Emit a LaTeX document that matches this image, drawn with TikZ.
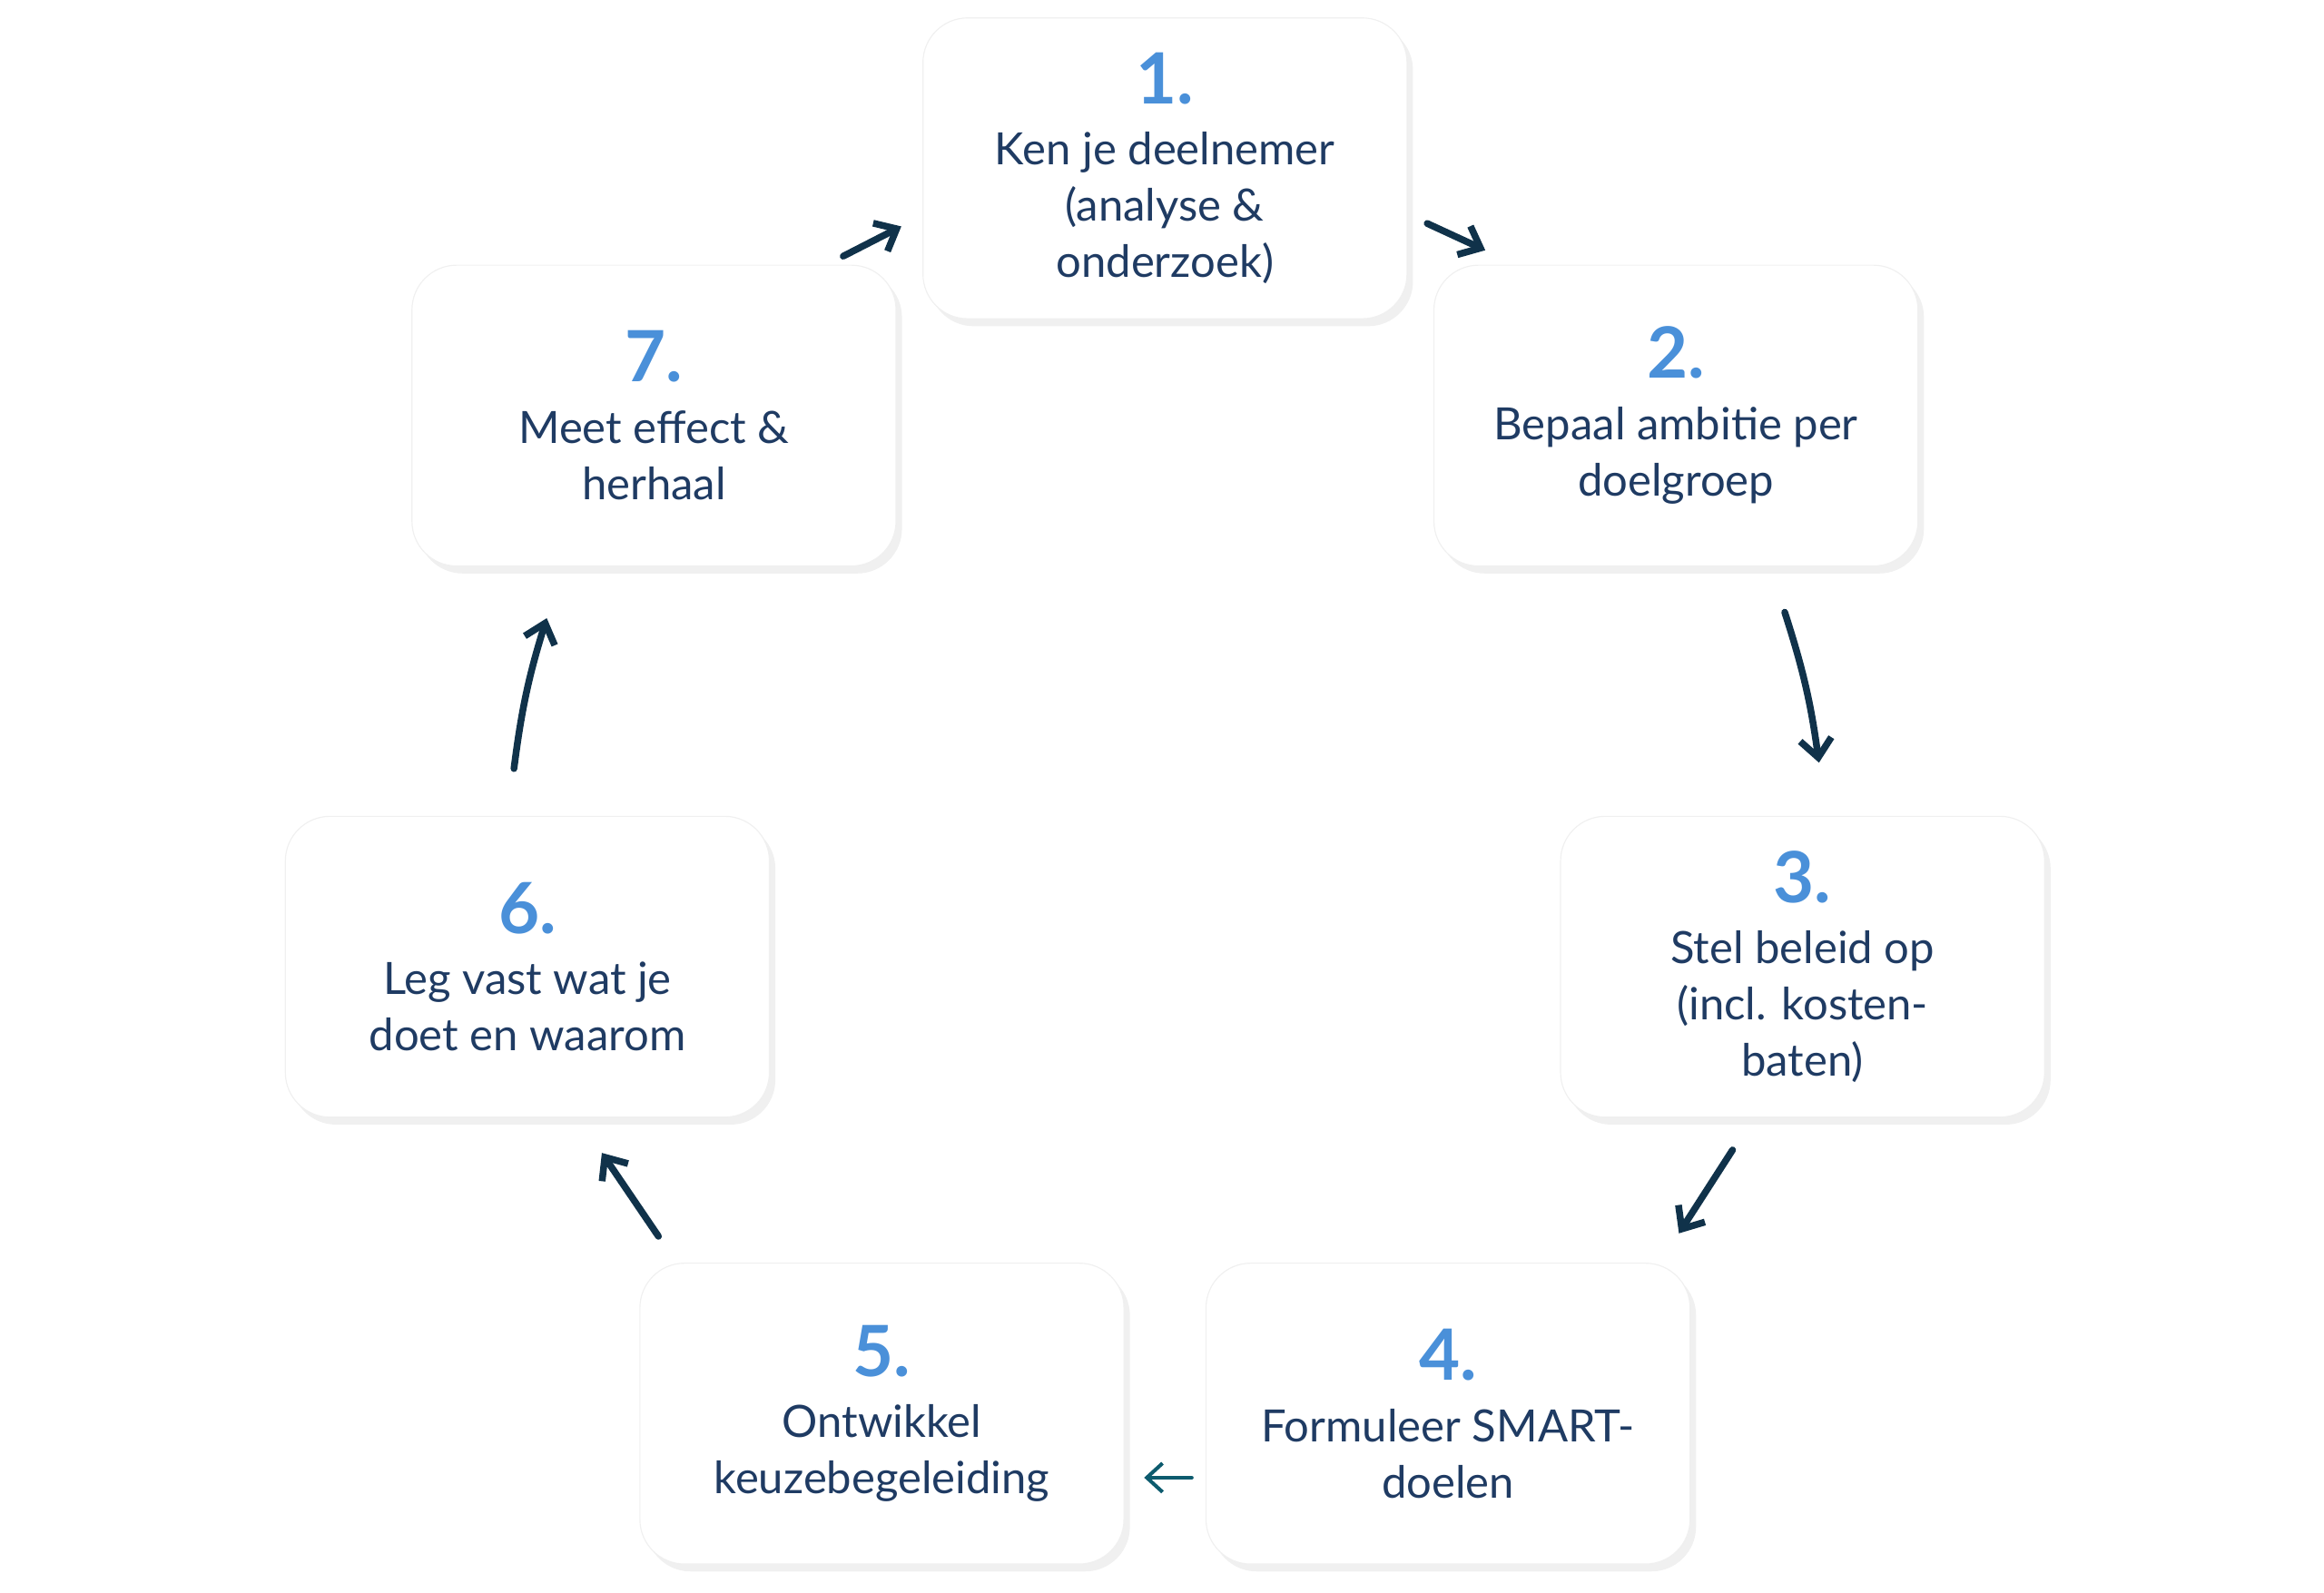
\documentclass[tikz,border=0pt]{standalone}
\usepackage{fontspec}
\setmainfont{Lato}
\usetikzlibrary{shadows,arrows.meta}
\definecolor{txt}{HTML}{1F3B63}
\definecolor{num}{HTML}{4A90D9}
\definecolor{arr}{HTML}{10324A}
\tikzset{
 card/.style={draw=black!6,fill=white,rounded corners=0.6cm,minimum width=6.5cm,minimum height=4.04cm,
   align=center,text=txt,font=\fontsize{17}{21.5}\selectfont,
   drop shadow={opacity=0.12,shadow xshift=0.08cm,shadow yshift=-0.1cm}},
 flow/.style={draw=arr,line width=2.6pt,line cap=round,-{Straight Barb[length=7pt,width=12pt]}},
 thin/.style={draw=arr!80!cyan,line width=1.4pt,line cap=round,-{Straight Barb[length=6pt,width=11pt]}}
}
\newcommand{\nr}[1]{{\color{num}\fontsize{27}{30}\selectfont\bfseries #1}\\[2pt]}
\begin{document}
\begin{tikzpicture}[x=0.02cm,y=-0.02cm]
\useasboundingbox (0,0) rectangle (1560,1069);
\node[card] (n1) at (782,113) {\nr{1.}Ken je deelnemer\\(analyse \&\\onderzoek)};
\node[card] (n2) at (1125,279) {\nr{2.}Bepaal ambitie per\\doelgroep};
\node[card] (n3) at (1210,649) {\nr{3.}Stel beleid op\\(incl. kosten-\\baten)};
\node[card] (n4) at (972,949) {\nr{4.}Formuleer SMART-\\doelen};
\node[card] (n5) at (592,949) {\nr{5.}Ontwikkel\\keuzebegeleiding};
\node[card] (n6) at (354,649) {\nr{6.}Leg vast wat je\\doet en waarom};
\node[card] (n7) at (439,279) {\nr{7.}Meet effect \&\\herhaal};
\coordinate (a1) at (958,150); \coordinate (b1) at (997,168);
\coordinate (a2) at (1198,411); \coordinate (b2) at (1221,512);
\coordinate (a3) at (1163,772); \coordinate (b3) at (1127,828);
\coordinate (a4) at (800,992); \coordinate (b4) at (768,992);
\coordinate (a5) at (442,830); \coordinate (b5) at (404,774);
\coordinate (a6) at (345,516); \coordinate (b6) at (367,415);
\coordinate (a7) at (566,172); \coordinate (b7) at (605,152);
\draw[flow] (a1) -- (b1);
\draw[flow] (a2) to[bend left=5] (b2);
\draw[flow] (a3) -- (b3);
\draw[thin] (a4) -- (b4);
\draw[flow] (a5) -- (b5);
\draw[flow] (a6) to[bend left=5] (b6);
\draw[flow] (a7) -- (b7);
\end{tikzpicture}
\end{document}
